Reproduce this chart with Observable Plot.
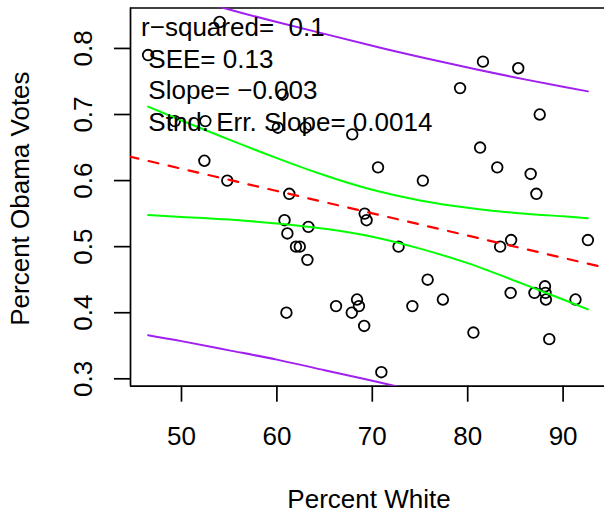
<!DOCTYPE html>
<html>
<head>
<meta charset="utf-8">
<script src="https://cdn.jsdelivr.net/npm/d3@7"></script>
<script src="https://cdn.jsdelivr.net/npm/@observablehq/plot@0.6"></script>
<style>
  html, body { margin: 0; padding: 0; background: #fff; }
</style>
</head>
<body>
<div id="chart"></div>
<script>
// ---- data (51 states + DC) ----
const pctWhite = [46.5, 49.3, 52.5, 54.0, 52.4, 54.8, 60.6, 60.1, 63.0, 67.9,
  61.3, 70.6, 75.3, 79.2, 81.6, 85.3, 87.55, 81.3, 83.1, 86.6,
  87.2, 60.8, 61.1, 62.0, 62.4, 63.3, 63.2, 61.0, 66.2, 68.4,
  68.6, 67.85, 69.15, 69.2, 69.4, 72.75, 84.55, 83.4, 92.6, 75.8,
  74.2, 77.4, 84.5, 87.0, 88.1, 88.15, 88.2, 91.3, 80.6, 88.55, 70.95];
const obamaVotes = [0.79, 0.69, 0.69, 0.84, 0.63, 0.60, 0.73, 0.68, 0.68, 0.67,
  0.58, 0.62, 0.60, 0.74, 0.78, 0.77, 0.70, 0.65, 0.62, 0.61,
  0.58, 0.54, 0.52, 0.50, 0.50, 0.53, 0.48, 0.40, 0.41, 0.42,
  0.41, 0.40, 0.38, 0.55, 0.54, 0.50, 0.51, 0.50, 0.51, 0.45,
  0.41, 0.42, 0.43, 0.43, 0.44, 0.43, 0.42, 0.42, 0.37, 0.36, 0.31];

// regression line (red dashed), read at the plot edges
const fitX = [44.66, 94.44];
const fitY = [0.636, 0.468];

// confidence (green) and prediction (purple) bands
const bandX     = [46.5, 50, 55, 60, 65, 70, 75, 80, 85, 90, 92.6];
const confUpper = [0.712, 0.691, 0.662, 0.634, 0.608, 0.586, 0.570, 0.559, 0.551, 0.546, 0.543];
const confLower = [0.548, 0.545, 0.541, 0.535, 0.527, 0.515, 0.497, 0.475, 0.448, 0.420, 0.405];
const predUpper = [0.894, 0.880, 0.859, 0.840, 0.822, 0.804, 0.787, 0.771, 0.756, 0.742, 0.735];
const predLower = [0.366, 0.357, 0.343, 0.329, 0.313, 0.297, 0.280, 0.262, 0.244, 0.224, 0.214];

const xTicks = [50, 60, 70, 80, 90];
const yTicks = [0.3, 0.4, 0.5, 0.6, 0.7, 0.8];
const statsLines = ["r\u2212squared=\u00a0 0.1", "\u00a0SEE= 0.13", "\u00a0Slope= \u22120.003", "\u00a0Stnd. Err. Slope= 0.0014"];
const xTitle = "Percent White";
const yTitle = "Percent Obama Votes";

// ---- layout (R-style 4% axis extension) ----
const rExt = a => { const [lo, hi] = d3.extent(a); const e = (hi - lo) * 0.04; return [lo - e, hi + e]; };
const xDom = rExt(pctWhite);
const yDom = rExt(obamaVotes);
const W = 604, H = 515;
const padL = 130, padR = 605, padT = 7.5, padB = 385.7;
const FONT = "'Liberation Sans', Arial, Helvetica, sans-serif";
const lineW = 1.7;

const n = pctWhite.length;

const chart = Plot.plot({
  width: W,
  height: H,
  marginLeft: padL,
  marginRight: 0,
  marginTop: padT,
  marginBottom: H - padB,
  style: { fontFamily: FONT, fontSize: "26px", background: "#fff", color: "black" },
  x: { domain: xDom, range: [padL, padR], axis: null },
  y: { domain: yDom, range: [padB, padT], axis: null },
  marks: [
    // box (right side lies just off the canvas)
    Plot.ruleY([yDom[0], yDom[1]], { x1: xDom[0], x2: xDom[1], stroke: "black", strokeWidth: lineW }),
    Plot.ruleX([xDom[0]], { y1: yDom[0], y2: yDom[1], stroke: "black", strokeWidth: lineW }),
    // axes
    Plot.axisX(xTicks, { anchor: "bottom", tickSize: 16, tickPadding: 24.8, fontSize: 26, label: null,
      stroke: "black", strokeWidth: lineW, fill: "black" }),
    Plot.axisY(yTicks, { anchor: "left", tickSize: 16, tickPadding: 22.3, tickRotate: -90,
      textAnchor: "middle", lineAnchor: "bottom", fontSize: 26, label: null,
      tickFormat: d => String(d), stroke: "black", strokeWidth: lineW, fill: "black" }),
    // points
    Plot.dot({ length: n }, { x: pctWhite, y: obamaVotes, r: 5.3, stroke: "black", strokeWidth: 1.8, fill: "none" }),
    // regression line
    Plot.line(fitX, { x: fitX, y: fitY, stroke: "#FF0000", strokeWidth: 2.2,
      strokeDasharray: "10,10.5", strokeDashoffset: 2, clip: true }),
    // confidence band
    Plot.line(bandX, { x: bandX, y: confUpper, stroke: "#00FF00", strokeWidth: 2, curve: "natural", clip: true }),
    Plot.line(bandX, { x: bandX, y: confLower, stroke: "#00FF00", strokeWidth: 2, curve: "natural", clip: true }),
    // prediction band
    Plot.line(bandX, { x: bandX, y: predUpper, stroke: "#A020F0", strokeWidth: 2, curve: "natural", clip: true }),
    Plot.line(bandX, { x: bandX, y: predLower, stroke: "#A020F0", strokeWidth: 2, curve: "natural", clip: true }),
    // statistics text
    ...statsLines.map((t, i) => Plot.text([t], {
      text: d => d, frameAnchor: "top-left", textAnchor: "start", lineAnchor: "bottom",
      dx: 10.6, dy: 27.8 + 31.8 * i, fontSize: 26, fill: "black"
    })),
    // axis titles
    Plot.text([xTitle], { text: d => d, frameAnchor: "bottom", textAnchor: "middle", lineAnchor: "bottom",
      dx: 1.5, dy: 121.6, fontSize: 26, fill: "black" }),
    Plot.text([yTitle], { text: d => d, frameAnchor: "left", textAnchor: "middle", lineAnchor: "bottom",
      rotate: -90, dx: 28.6 - padL, dy: 1.5, fontSize: 26, fill: "black" })
  ]
});
document.getElementById("chart").appendChild(chart);
</script>
</body>
</html>
